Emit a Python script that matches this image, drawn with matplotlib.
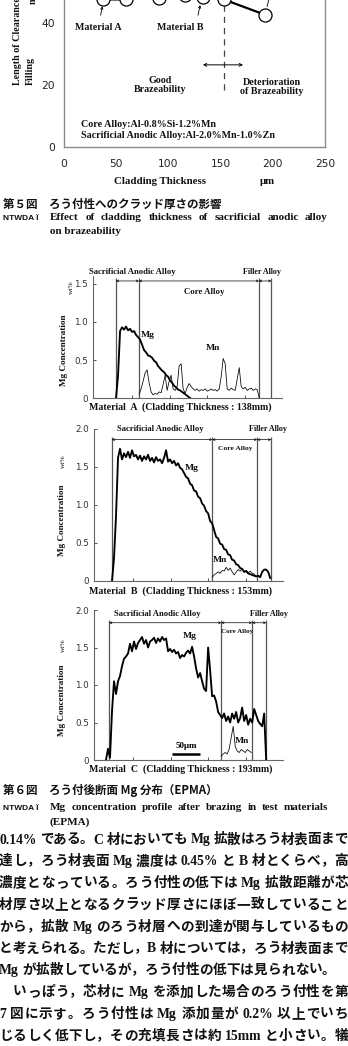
import re
import numpy as np
import matplotlib
matplotlib.use("Agg")
import matplotlib.pyplot as plt

W, H = 348, 1046
SERIF = ["Liberation Serif", "DejaVu Serif"]
JP = ["Liberation Serif", "Noto Sans CJK JP"]
GOTHIC = ["Noto Sans CJK JP", "DejaVu Sans"]

# ---------------- Fig.5 : brazeability vs cladding thickness
thick_um = [37, 59, 91, 116, 133, 153, 193]
fill_len = [47.6, 47.6, 48.2, 49.0, 48.4, 47.6, 42.6]
braze_limit = 153
x_ticks5 = [0, 50, 100, 150, 200, 250]
y_ticks5 = [0, 20, 40]

# ---------------- Fig.6 : EPMA Mg / Mn profiles (depth in um, conc. in wt%)
STEP = 3.57
yt_a = [0, 0.5, 1.0, 1.5]
ytl_a = ["0", "0.5", "1.0", "1.5"]
yt_bc = [0, 0.5, 1.0, 1.5, 2.0]
ytl_bc = ["0", "0.5", "1.0", "1.5", "2.0"]
x_minor = [70, 137, 204, 271]

bound_a = [41, 82, 296, 318]
mg_a_x0 = 41.1
mg_a = [0.0, 0.30, 0.88, 0.93, 0.90, 0.94, 0.89, 0.91, 0.87, 0.88, 0.83, 0.80, 0.77,
        0.70, 0.63, 0.60, 0.56, 0.55, 0.53, 0.49, 0.47, 0.42, 0.39, 0.36, 0.34, 0.30,
        0.28, 0.23, 0.20, 0.16, 0.14, 0.11, 0.10, 0.08, 0.06, 0.04, 0.02, 0.0]
mn_a_x0 = 82.2
mn_a = [0.05, 0.12, 0.22, 0.33, 0.37, 0.20, 0.08, 0.04, 0.06, 0.05, 0.08, 0.07, 0.18,
        0.30, 0.10, 0.22, 0.30, 0.12, 0.10, 0.15, 0.42, 0.45, 0.12, 0.06, 0.14, 0.19,
        0.15, 0.12, 0.10, 0.12, 0.09, 0.11, 0.10, 0.12, 0.09, 0.10, 0.12, 0.10, 0.11,
        0.09, 0.12, 0.28, 0.52, 0.45, 0.12, 0.10, 0.13, 0.11, 0.10, 0.25, 0.40, 0.15,
        0.12, 0.14, 0.10, 0.12, 0.13, 0.10, 0.12, 0.11, 0.0]

bound_b = [32, 211, 291, 316]
mg_b_x0 = 32.1
mg_b = [0.0, 0.30, 0.85, 1.62, 1.74, 1.60, 1.68, 1.63, 1.70, 1.62, 1.72, 1.64, 1.66,
        1.60, 1.65, 1.58, 1.64, 1.60, 1.66, 1.58, 1.62, 1.56, 1.63, 1.58, 1.60, 1.55,
        1.62, 1.72, 1.57, 1.60, 1.55, 1.58, 1.52, 1.55, 1.49, 1.47, 1.42, 1.37, 1.35,
        1.28, 1.26, 1.19, 1.18, 1.11, 1.09, 1.02, 0.99, 0.92, 0.89, 0.79, 0.76, 0.67,
        0.58, 0.56, 0.49, 0.48, 0.42, 0.41, 0.35, 0.34, 0.28, 0.27, 0.22, 0.21, 0.17,
        0.16, 0.12, 0.13, 0.10, 0.09, 0.08, 0.07, 0.06, 0.07, 0.05, 0.12, 0.15, 0.15,
        0.12, 0.04]
mn_b_x0 = 210.7
mn_b = [0.05, 0.08, 0.10, 0.12, 0.10, 0.14, 0.13, 0.18, 0.14, 0.17, 0.12, 0.08, 0.12,
        0.15, 0.13, 0.16, 0.12, 0.14, 0.11, 0.13, 0.10, 0.09, 0.06]

bound_c = [27, 227, 282, 307]
mg_c_x0 = 21.4
mg_c = [0.0, 0.15, 0.03, 0.65, 1.05, 0.88, 1.05, 1.12, 1.25, 1.35, 1.38, 1.42, 1.55,
        1.45, 1.58, 1.48, 1.56, 1.60, 1.64, 1.55, 1.60, 1.50, 1.58, 1.60, 1.63, 1.56,
        1.62, 1.58, 1.64, 1.60, 1.62, 1.45, 1.48, 1.44, 1.47, 1.42, 1.44, 1.36, 1.40,
        1.38, 1.43, 1.46, 1.42, 1.51, 1.38, 1.22, 1.10, 1.16, 1.05, 0.95, 0.92, 1.50,
        1.20, 0.85, 0.86, 0.78, 0.64, 0.60, 0.56, 0.62, 0.52, 0.58, 0.50, 0.62, 0.55,
        0.64, 0.50, 0.56, 0.70, 0.52, 0.60, 0.47, 0.55, 0.50, 0.68, 0.60, 0.52, 0.48,
        0.45, 0.62, 0.0]
mn_c_x0 = 226.8
mn_c = [0.05, 0.08, 0.10, 0.08, 0.15, 0.30, 0.45, 0.18, 0.12, 0.10, 0.14, 0.12, 0.10,
        0.14, 0.12, 0.10]
scale_bar_um = 50

body = [
    "0.14% である。C 材においても Mg 拡散はろう材表面まで",
    "達し，ろう材表面 Mg 濃度は 0.45% と B 材とくらべ，高",
    "濃度となっている。ろう付性の低下は Mg 拡散距離が芯",
    "材厚さ以上となるクラッド厚さにほぼ一致していること",
    "から，拡散 Mg のろう材層への到達が関与しているもの",
    "と考えられる。ただし，B 材については，ろう材表面まで",
    "Mg が拡散しているが，ろう付性の低下は見られない。",
    "　いっぽう，芯材に Mg を添加した場合のろう付性を第",
    "7 図に示す。ろう付性は Mg 添加量が 0.2% 以上でいち",
    "じるしく低下し，その充填長さは約 15mm と小さい。犠",
]

fig = plt.figure(figsize=(W / 100, H / 100), dpi=100)


def box(left, right, y0, ppu, ymax):
    # axes rectangle from page pixels
    return [left / W, 1 - y0 / H, (right - left) / W, ppu * ymax / H]


# ---- Fig.5 chart
ax = fig.add_axes(box(64, 325, 147, 3.1, 55))
ax.plot(thick_um, fill_len, "-", color="black", lw=1.6, marker="o", ms=9.4,
        mfc="white", mec="black", mew=0.9, zorder=3)
ax.set_xlim(0, 250)
ax.set_ylim(0, 55)
ax.set_xticks(x_ticks5)
ax.set_xticklabels([str(v) for v in x_ticks5])
ax.set_yticks(y_ticks5)
ax.set_yticklabels([str(v) for v in y_ticks5])
ax.tick_params(length=0, labelsize=7.7, colors="#222")
ax.tick_params(axis="x", pad=8.5)
ax.tick_params(axis="y", pad=6.5)
for s in ax.spines.values():
    s.set_color("#8a8a8a")
    s.set_linewidth(1.0)
ax.axvline(braze_limit, ymin=18.4 / 55, ymax=1, color="#444", lw=0.9, ls=(0, (5, 4)))
ax.annotate("", xy=(171.5, 26.5), xytext=(133, 26.5),
            arrowprops=dict(arrowstyle="<->", lw=0.7, mutation_scale=5, shrinkA=0, shrinkB=0))
tkw = dict(family=SERIF, weight="bold", fontsize=7.2, color="#111")
ax.annotate("Material A", xy=(36.8, 45.4), xytext=(32.6, 38.4), ha="center", va="center",
            arrowprops=dict(arrowstyle="->", lw=0.6, mutation_scale=4, shrinkA=4, shrinkB=0), **tkw)
ax.annotate("Material B", xy=(130.5, 45.8), xytext=(111, 38.4), ha="center", va="center",
            arrowprops=dict(arrowstyle="->", lw=0.6, mutation_scale=4, shrinkA=4, shrinkB=0,
                            relpos=(0.85, 1.0)), **tkw)
ax.annotate("", xy=(194.5, 45.3), xytext=(198.5, 50.5),
            arrowprops=dict(arrowstyle="-", lw=0.6, shrinkA=0, shrinkB=0))
ax.text(92, 20.0, "Good\nBrazeability", ha="center", va="center", linespacing=1.05, **tkw)
ax.text(199, 19.4, "Deterioration\nof Brazeability", ha="center", va="center", linespacing=1.05, **tkw)
ax.text(16.3, 7.4, "Core Alloy:Al-0.8%Si-1.2%Mn", ha="left", va="center", **tkw)
ax.text(16.3, 3.6, "Sacrificial Anodic Alloy:Al-2.0%Mn-1.0%Zn", ha="left", va="center", **tkw)


# ---- Fig.6 panels
def profile(rect, ymax, yt, ytl, bounds, mg_x0, mg, mn_x0, mn, line_top, lab_y, core_y, core_fs,
            sac_x, fil_x, core_x, mg_lab, mn_lab):
    p = fig.add_axes(rect)
    p.plot(mg_x0 + STEP * np.arange(len(mg)), mg, color="black", lw=1.35, zorder=3)
    p.plot(mn_x0 + STEP * np.arange(len(mn)), mn, color="black", lw=0.55, zorder=3)
    p.vlines(bounds, 0, line_top, colors="#555", lw=0.9)
    for a, b in zip(bounds[:-1], bounds[1:]):
        p.annotate("", xy=(b, line_top - 0.04), xytext=(a, line_top - 0.04),
                   arrowprops=dict(arrowstyle="<->", lw=0.5, mutation_scale=3.5, shrinkA=0, shrinkB=0))
    p.set_xlim(0, 337)
    p.set_ylim(0, ymax)
    p.set_yticks(yt)
    p.set_yticklabels(ytl)
    p.set_xticks(x_minor)
    p.set_xticklabels([])
    p.tick_params(direction="in", length=2, width=0.6, labelsize=6.3, pad=3.5, colors="#333")
    for k in ("top", "right"):
        p.spines[k].set_visible(False)
    for k in ("left", "bottom"):
        p.spines[k].set_color("#666")
        p.spines[k].set_linewidth(0.8)
    kw = dict(family=SERIF, weight="bold", color="#111", ha="center", va="center")
    p.text(sac_x, lab_y, "Sacrificial Anodic Alloy", fontsize=6.2, **kw)
    p.text(fil_x, lab_y, "Filler Alloy", fontsize=5.8, **kw)
    p.text(core_x, core_y, "Core Alloy", fontsize=core_fs, **kw)
    p.text(mg_lab[0], mg_lab[1], "Mg", fontsize=6.8, **kw)
    p.text(mn_lab[0], mn_lab[1], "Mn", fontsize=6.8, **kw)
    return p


profile(box(93, 282, 398, 76, 1.6), 1.6, yt_a, ytl_a, bound_a, mg_a_x0, mg_a, mn_a_x0, mn_a,
        1.58, 1.66, 1.39, 6.3, 70, 302, 198, (98, 0.83), (214, 0.66))
profile(box(94, 283, 581, 76, 2.0), 2.0, yt_bc, ytl_bc, bound_b, mg_b_x0, mg_b, mn_b_x0, mn_b,
        1.9, 2.0, 1.74, 5.4, 118, 311, 252, (175, 1.49), (225, 0.28))
pc = profile(box(94, 283, 760, 75, 2.0), 2.0, yt_bc, ytl_bc, bound_c, mg_c_x0, mg_c, mn_c_x0, mn_c,
             1.87, 1.95, 1.72, 5.0, 112, 312, 255, (171, 1.65), (264, 0.25))
pc.plot([139, 139 + scale_bar_um], [0.08, 0.08], color="black", lw=1.8, solid_capstyle="butt")
pc.text(164, 0.18, "50μm", ha="center", va="center", fontsize=6.5, family=SERIF, weight="bold")

# ---- page overlay for captions and body text
page = fig.add_axes([0, 0, 1, 1])
page.set_xlim(0, W)
page.set_ylim(H, 0)
page.axis("off")

sk = dict(family=SERIF, weight="bold", color="#111")
page.text(18, 85, "Length of Clearance", rotation=90, rotation_mode="anchor", ha="left",
          va="center", fontsize=7.2, **sk)
page.text(30, 85, "Filling", rotation=90, rotation_mode="anchor", ha="left", va="center",
          fontsize=7.2, **sk)
page.text(33, 4, "mm", rotation=90, rotation_mode="anchor", ha="left", va="center",
          fontsize=7.2, **sk)
page.text(160, 182, "Cladding Thickness", ha="center", va="center", fontsize=7.8, **sk)
page.text(267, 182, "μm", ha="center", va="center", fontsize=7.8, **sk)

for yy, cx, wx, wcx in [(350, 64, 287, 71), (520, 62, 461, 63), (700, 62, 645, 63)]:
    page.text(cx, yy, "Mg Concentration", rotation=90, ha="center", va="center", fontsize=6.6, **sk)
    page.text(wcx, wx, "wt%", rotation=90, ha="center", va="center",
              fontsize=5.3, family=SERIF, color="#111")
for yy, lab in [(407, "Material  A  (Cladding Thickness : 138mm)"),
                (591, "Material  B  (Cladding Thickness : 153mm)"),
                (769, "Material  C  (Cladding Thickness : 193mm)")]:
    page.text(89, yy, lab, ha="left", va="center", fontsize=7.1, **sk)

rend = fig.canvas.get_renderer()


def justify(y, s, x0, x1, size, family, weight="bold", fill=True, space_em=0.25):
    items = []
    for m in re.finditer(r"[!-~]+|\S", s):
        gap = m.start() > 0 and s[m.start() - 1].isspace()
        t = page.text(0, y, m.group(), fontsize=size, family=family, weight=weight,
                      ha="left", va="center", color="#111")
        items.append([t, t.get_window_extent(rend).width, gap])
    em = size * 100 / 72
    if s.startswith("\u3000"):
        x0 += em
        items[0][2] = False
    nat = sum(w for _, w, _ in items) + sum(space_em * em for _, _, g in items[1:] if g)
    extra = (x1 - x0 - nat) / max(len(items) - 1, 1) if fill else 0
    x = x0
    for i, (t, w, g) in enumerate(items):
        if i:
            x += extra + (space_em * em if g else 0)
        t.set_x(x)
        x += w


page.text(3, 204, "第５図　ろう付性へのクラッド厚さの影響", ha="left", va="center",
          fontsize=8.3, family=GOTHIC, weight="bold", color="#111")
page.text(3, 218, "NTWDA Ï", ha="left", va="center", fontsize=6.0,
          family=["Liberation Sans", "DejaVu Sans"], weight="bold", color="#111")
justify(218, "Effect of cladding thickness of sacrificial anodic alloy", 50, 328, 8.0, SERIF,
        space_em=0.3)
page.text(50, 232, "on brazeability", ha="left", va="center", fontsize=8.0, **sk)

page.text(3, 790, "第６図　ろう付後断面 Mg 分布（EPMA）", ha="left", va="center",
          fontsize=8.3, family=GOTHIC, weight="bold", color="#111")
page.text(3, 808, "NTWDA Ï", ha="left", va="center", fontsize=6.0,
          family=["Liberation Sans", "DejaVu Sans"], weight="bold", color="#111")
justify(808, "Mg concentration profile after brazing in test materials", 50, 328, 8.0, SERIF,
        space_em=0.3)
page.text(50, 822, "(EPMA)", ha="left", va="center", fontsize=8.0, **sk)

for i, line in enumerate(body):
    justify(840 + 21.8 * i, line, -1, 348, 9.8, JP, fill=(i != 6))

fig.savefig("out.png", dpi=100)
